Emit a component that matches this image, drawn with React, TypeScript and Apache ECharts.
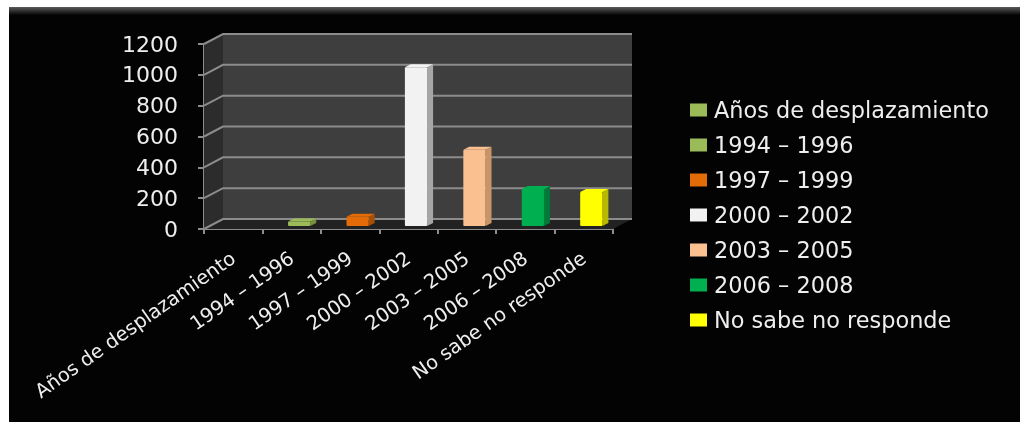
import React, { useEffect, useRef } from "react";
import * as echarts from "echarts";

const categories = ["Años de desplazamiento", "1994 – 1996", "1997 – 1999", "2000 – 2002", "2003 – 2005", "2006 – 2008", "No sabe no responde"];
const values = [0, 30, 60, 1030, 495, 240, 220];
const colors = ["#9bbb59", "#9bbb59", "#e36c09", "#f2f2f2", "#fac090", "#00b050", "#ffff00"];
const sideColors = ["#76923c", "#76923c", "#a84f06", "#a6a6a6", "#c99468", "#007a38", "#b8b800"];
const yTicks = [0, 200, 400, 600, 800, 1000, 1200];

const DX = 19;
const DY = 10;
const FONT = "'DejaVu Sans', sans-serif";

export default function App() {
  const ref = useRef<HTMLDivElement>(null);
  useEffect(() => {
    const chart = echarts.init(ref.current!, null, { renderer: "svg" });

    const wallSeries: any = {
      type: "custom",
      silent: true,
      z: 1,
      legendHoverLink: false,
      data: yTicks.map((t) => [categories[0], t]),
      encode: { x: 0, y: 1 },
      renderItem: (params: any, api: any) => {
        const cs = params.coordSys;
        const left = cs.x;
        const right = cs.x + cs.width;
        const y = api.coord([0, api.value(1)])[1];
        const children: any[] = [];
        if (params.dataIndex === 0) {
          const top = cs.y;
          const bot = cs.y + cs.height;
          children.push(
            { type: "polygon", shape: { points: [[left + DX, top - DY], [right + DX, top - DY], [right + DX, bot - DY], [left + DX, bot - DY]] }, style: { fill: "#3e3e3e" } },
            { type: "polygon", shape: { points: [[left, top], [left + DX, top - DY], [left + DX, bot - DY], [left, bot]] }, style: { fill: "#2c2c2c" } },
            { type: "polygon", shape: { points: [[left, bot], [left + DX, bot - DY], [right + DX, bot - DY], [right, bot]] }, style: { fill: "#222222" } }
          );
        }
        children.push({
          type: "polyline",
          shape: { points: [[left, y], [left + DX, y - DY], [right + DX, y - DY]] },
          style: { fill: "none", stroke: "#8c8c8c", lineWidth: 2 },
        });
        return { type: "group", children };
      },
    };

    const barSeries = categories.map((name, i) => ({
      type: "custom",
      name,
      z: 3,
      itemStyle: { color: colors[i] },
      data: i === 0 ? [] : [[name, values[i]]],
      encode: { x: 0, y: 1 },
      renderItem: (_p: any, api: any) => {
        const [cx, y1] = api.coord([api.value(0), api.value(1)]);
        const y0 = api.coord([api.value(0), 0])[1];
        const bw = api.size([1, 0])[0] * 0.38;
        const x0 = cx + 7.5 - bw / 2;
        const x1 = x0 + bw;
        const up = 3;
        const dx = 6;
        const dy = 3;
        const topY = y1 - up;
        const botY = y0 - up;
        return {
          type: "group",
          children: [
            { type: "polygon", shape: { points: [[x1, topY], [x1 + dx, topY - dy], [x1 + dx, botY - dy], [x1, botY]] }, style: { fill: sideColors[i] } },
            { type: "polygon", shape: { points: [[x0, topY], [x0 + dx, topY - dy], [x1 + dx, topY - dy], [x1, topY]] }, style: { fill: colors[i] } },
            { type: "rect", shape: { x: x0, y: topY, width: bw, height: botY - topY, r: 1 }, style: { fill: colors[i] } },
          ],
        };
      },
    }));

    chart.setOption({
      animation: false,
      backgroundColor: "transparent",
      textStyle: { fontFamily: FONT },
      graphic: [
        { type: "rect", z: -10, shape: { x: 9, y: 7, width: 1011, height: 415 }, style: { fill: "#030303" } },
        {
          type: "rect", z: -9, shape: { x: 9, y: 7, width: 1011, height: 8 },
          style: { fill: new echarts.graphic.LinearGradient(0, 0, 0, 1, [{ offset: 0, color: "#5a5a5a" }, { offset: 1, color: "#050505" }]) },
        },
      ],
      legend: {
        orient: "vertical",
        left: 685,
        top: 94,
        itemWidth: 17,
        itemHeight: 13,
        itemGap: 13,
        icon: "rect",
        data: categories,
        textStyle: { color: "#eeeeee", fontSize: 22.4, fontFamily: FONT, lineHeight: 22, padding: [0, 0, 0, 2] },
      },
      grid: { left: 204, top: 44, width: 409, height: 185, containLabel: false },
      xAxis: {
        type: "category",
        data: categories,
        axisLine: { lineStyle: { color: "#8c8c8c", width: 2 } },
        axisTick: { show: true, length: 5, lineStyle: { color: "#8c8c8c", width: 2 } },
        axisLabel: { interval: 0, rotate: 35, color: "#eeeeee", fontSize: 19.5, margin: 27, fontFamily: FONT },
      },
      yAxis: {
        type: "value",
        min: 0,
        max: 1200,
        interval: 200,
        splitLine: { show: false },
        axisLine: { show: true, lineStyle: { color: "#8c8c8c", width: 2 } },
        axisTick: { show: true, length: 6, lineStyle: { color: "#8c8c8c", width: 2 } },
        axisLabel: { color: "#eeeeee", fontSize: 22, margin: 26, fontFamily: FONT, formatter: (v: number) => String(v) },
      },
      series: [wallSeries, ...barSeries],
    });
    return () => chart.dispose();
  }, []);
  return (
    <div style={{ position: "absolute", left: 0, top: 0, width: 1020, height: 422, background: "#ffffff", overflow: "hidden" }}>
      <div ref={ref} style={{ width: 1020, height: 422, filter: "blur(0.6px)" }} />
    </div>
  );
}
